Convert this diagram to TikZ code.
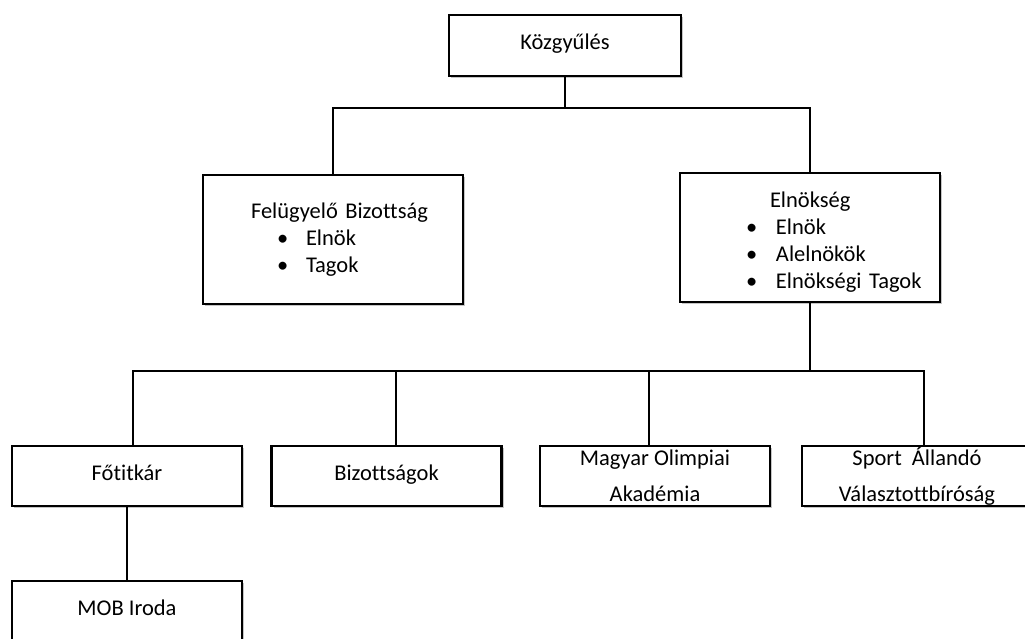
\documentclass[tikz,border=0pt]{standalone}
\usepackage{fontspec}
\setmainfont{Carlito}[Ligatures=NoCommon]
\usetikzlibrary{shadows}

\newcommand{\pont}[3]{\hspace*{#1}\makebox[#2][l]{\textbullet}#3}

\tikzset{
    box/.style={draw, line width=1.6pt, fill=white, minimum width=4.6cm, minimum height=1.2cm,
        font=\fontsize{12.8}{15.4}\selectfont, align=center,
        drop shadow={shadow xshift=1.2pt, shadow yshift=-1.2pt, fill=black!45, opacity=0.5}},
    onebox/.style={box, text height=0.66em, text depth=0.2em},
    twobox/.style={box, inner ysep=0pt},
    listbox/.style={box, text width=5.2cm, inner xsep=0pt, minimum height=2.58cm, align=left},
    conn/.style={line width=1.6pt}
}

\begin{document}
\begin{tikzpicture}[x=0.02cm, y=-0.02cm]
    \useasboundingbox (0, 0) rectangle (1025, 639);
    \clip (0, 0) rectangle (1025, 639);

    % Top level
    \node[onebox, minimum width=4.64cm, minimum height=1.22cm] (kozgy) at (565, 45.5) {Közgyűlés};
    \coordinate (bar1) at (565, 108);

    % Second level
    \node[listbox] (felugy) at (333, 239.5) {\hspace*{0.96cm}Felügyelő Bizottság\\
        \pont{1.48cm}{0.58cm}{Elnök}\\
        \pont{1.48cm}{0.58cm}{Tagok}};
    \node[listbox] (elnokseg) at (810, 237.5) {\rule{0pt}{14pt}\hspace*{1.8cm}Elnökség\\
        \pont{1.32cm}{0.6cm}{Elnök}\\
        \pont{1.32cm}{0.6cm}{Alelnökök}\\
        \pont{1.32cm}{0.6cm}{Elnökségi Tagok}};
    \coordinate (bar2) at (810, 371);

    % Third level
    \node[onebox] (fotitkar) at (127, 476) {Főtitkár};
    \node[onebox] (bizotts) at (386.5, 476) {Bizottságok};
    \node[twobox] (akademia) at (655, 476) {Magyar Olimpiai\\[5pt]Akadémia};
    \node[twobox] (sport) at (917, 476) {Sport\ \ Állandó\\[5pt]Választottbíróság};

    % Office
    \node[onebox] (iroda) at (127, 611) {MOB Iroda};

    % Connectors
    \draw[conn] (kozgy) -- (bar1);
    \draw[conn] (felugy.north) |- (bar1) -| (elnokseg.north);
    \draw[conn] (elnokseg) -- (bar2);
    \draw[conn] ([xshift=0.12cm]fotitkar.north) |- (bar2);
    \draw[conn] ([xshift=0.19cm]bizotts.north) |- (bar2);
    \draw[conn] ([xshift=-0.12cm]akademia.north) |- (bar2);
    \draw[conn] ([xshift=0.14cm]sport.north) |- (bar2);
    \draw[conn] (fotitkar) -- (iroda);
\end{tikzpicture}
\end{document}
